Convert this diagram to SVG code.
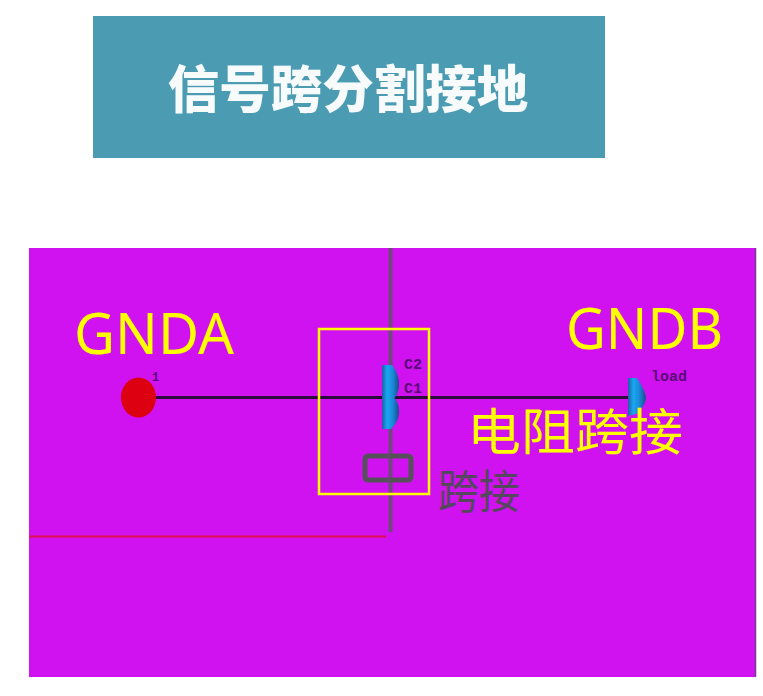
<svg xmlns="http://www.w3.org/2000/svg" width="763" height="696" viewBox="0 0 763 696">
<style>
.cjk{font-family:"Noto Sans CJK SC","Liberation Sans",sans-serif}
.lat{font-family:"Noto Sans","Liberation Sans",sans-serif;fill:#ffff00;font-size:56px}
.small{font-family:"Liberation Mono",monospace;font-size:15px;font-weight:700;fill:#5a0a78}
.y{fill:#ffff00;font-size:50px}
</style>
<defs>
<linearGradient id="pad" x1="0" x2="1" y1="0" y2="0">
<stop offset="0" stop-color="#1f5fa8"/><stop offset="0.3" stop-color="#1aa8f2"/><stop offset="0.65" stop-color="#1a86d6"/><stop offset="1" stop-color="#154c8a"/>
</linearGradient>
</defs>
<rect width="763" height="696" fill="#ffffff"/>
<g id="title">
<rect x="93" y="16" width="512" height="142" fill="#4b9cb3"/>
<text class="cjk" x="348" y="108" text-anchor="middle" font-size="51.500" font-weight="900" fill="#f7fbfb">信号跨分割接地</text>
</g>
<g id="plane">
<rect x="29" y="248" width="727" height="429" fill="#d012f0"/>
<line x1="755.500" y1="248" x2="755.500" y2="677" stroke="#7a3a94" stroke-width="1.500"/>
<line x1="29" y1="536.500" x2="386" y2="536.500" stroke="#e0104f" stroke-width="2"/>
</g>
<g id="connectors" fill="none">
<path d="M390.500 248V532" stroke="#6e4a7c" stroke-width="4"/>
<path d="M155 397.500H632" stroke="#2c0a3c" stroke-width="3"/>
</g>
<g id="gnda"><text class="lat" x="74" y="354" textLength="160" lengthAdjust="spacingAndGlyphs">GNDA</text></g>
<g id="gndb"><text class="lat" x="566" y="349" textLength="157" lengthAdjust="spacingAndGlyphs">GNDB</text></g>
<g id="node-1">
<ellipse cx="138.500" cy="397.500" rx="17.500" ry="20" fill="#dc0010"/>
<text class="small" x="152" y="381" style="font-size:12px">1</text>
</g>
<g id="via-c">
<path d="M382 365H392C396 370 399 376 399 384C399 391 397 395 394.500 398C397 401 399 405 399 411C399 419 396 424 391 429H382Z" fill="url(#pad)"/>
<text class="small" x="404" y="369">C2</text>
<text class="small" x="404" y="393">C1</text>
</g>
<g id="load">
<path d="M628 378H637C641 384 645 391 646 398C645 405 641 410 636 414L628 416Z" fill="url(#pad)"/>
<text class="small" x="651" y="381">load</text>
</g>
<g id="highlight"><rect x="319" y="329" width="110" height="165" fill="none" stroke="#ffff00" stroke-width="2.500"/></g>
<g id="jumper">
<rect x="365" y="456" width="46" height="24" rx="3" fill="none" stroke="#55505a" stroke-width="5"/>
<text class="cjk" transform="translate(438 508) scale(1 1.12)" font-size="41" fill="#55485e">跨接</text>
</g>
<g id="resistor-label"><text class="cjk y" x="467" y="450" textLength="216" lengthAdjust="spacingAndGlyphs">电阻跨接</text></g>
</svg>
